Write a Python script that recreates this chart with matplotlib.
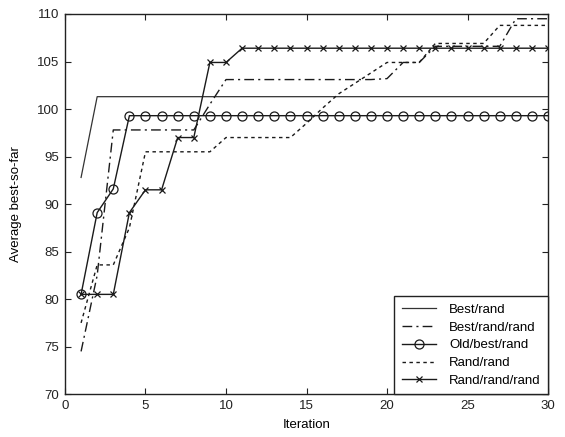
import matplotlib
matplotlib.use("Agg")
import matplotlib.pyplot as plt

plt.rcParams['font.family'] = ['Liberation Sans', 'DejaVu Sans']

iterations = list(range(1, 31))

best_rand = [92.8] + [101.3] * 29

best_rand_rand = [74.5, 82.5, 97.8, 97.8, 97.8, 97.8, 97.8, 97.8, 100.5, 103.1,
                  103.1, 103.1, 103.1, 103.1, 103.1, 103.1, 103.1, 103.1, 103.1, 103.2,
                  104.9, 104.9, 106.6, 106.6, 106.6, 106.6, 106.6, 109.5, 109.5, 109.5]

old_best_rand = [80.5, 89.1, 91.6, 99.3] + [99.3] * 26

rand_rand = [77.5, 83.6, 83.6, 87.5, 95.5, 95.5, 95.5, 95.5, 95.5, 97.0,
             97.0, 97.0, 97.0, 97.0, 98.5, 100.1, 101.6, 102.7, 103.8, 104.9,
             104.9, 104.9, 106.9, 106.9, 106.9, 106.9, 108.8, 108.8, 108.8, 108.8]

rand_rand_rand = [80.5, 80.5, 80.5, 89.1, 91.5, 91.5, 97.0, 97.0, 104.9, 104.9] + [106.4] * 20

series_labels = ['Best/rand', 'Best/rand/rand', 'Old/best/rand', 'Rand/rand', 'Rand/rand/rand']

x_ticks = [0, 5, 10, 15, 20, 25, 30]
y_ticks = [70, 75, 80, 85, 90, 95, 100, 105, 110]

fig = plt.figure(figsize=(5.65, 4.37), dpi=100)
ax = fig.add_axes([0.115, 0.098, 0.855, 0.87])

c = '#1a1a1a'
ax.plot(iterations, best_rand, '-', color='#333333', lw=0.9, label=series_labels[0])
ax.plot(iterations, best_rand_rand, color=c, lw=1.0, linestyle=(0, (7, 3, 1.5, 3)),
        label=series_labels[1])
ax.plot(iterations, old_best_rand, '-', color=c, lw=1.0, marker='o', markersize=6.5,
        markerfacecolor='none', markeredgecolor=c, markeredgewidth=0.9, label=series_labels[2])
ax.plot(iterations, rand_rand, color=c, lw=1.0, linestyle=(0, (2.5, 2.5)), label=series_labels[3])
ax.plot(iterations, rand_rand_rand, '-', color=c, lw=1.0, marker='x', markersize=5,
        markeredgewidth=0.9, label=series_labels[4])

ax.set_xlim(0, 30)
ax.set_ylim(70, 110)
ax.set_xticks(x_ticks)
ax.set_yticks(y_ticks)
ax.tick_params(direction='in', top=True, right=True, length=4, width=0.8,
               labelsize=9.5, colors='#222222', pad=4)
for s in ax.spines.values():
    s.set_color('#222222')
    s.set_linewidth(1.0)

ax.set_xlabel('Iteration', fontsize=9.5, labelpad=5)
ax.set_ylabel('Average best-so-far', fontsize=9.5, labelpad=11)

leg = ax.legend(loc='lower right', borderaxespad=0, fancybox=False, framealpha=1,
                edgecolor='#222222', fontsize=9.5, handlelength=2.6,
                labelspacing=0.42, handletextpad=1.0, borderpad=0.55)
leg.get_frame().set_linewidth(1.0)

fig.savefig('out.png', dpi=100)
